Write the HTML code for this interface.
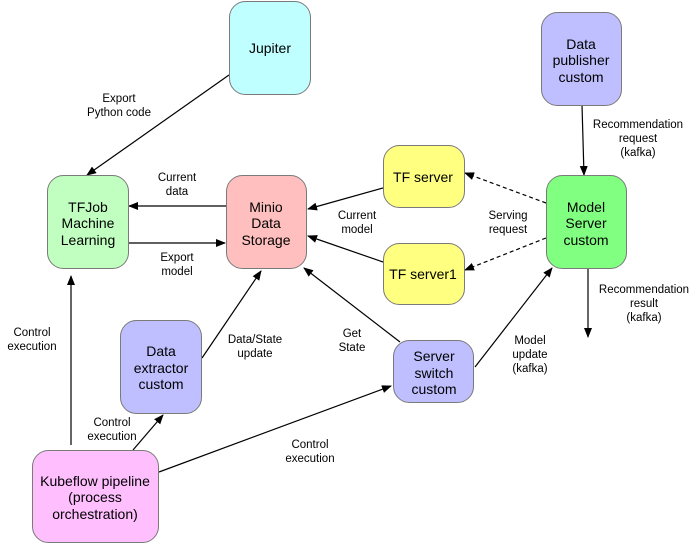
<!DOCTYPE html>
<html><head><style>
body{margin:0;background:#fff;width:699px;height:544px;overflow:hidden}
svg{font-family:"Liberation Sans",sans-serif}
.n{stroke:#7a7a7a;stroke-width:1}
.t{font-size:14px;text-anchor:middle;fill:#000}
.l{font-size:11.5px;text-anchor:middle;fill:#000}
</style></head><body>
<svg width="699" height="544" viewBox="0 0 699 544" xmlns="http://www.w3.org/2000/svg">
<defs><marker id="a" markerWidth="10" markerHeight="8" refX="9" refY="4" orient="auto" markerUnits="userSpaceOnUse"><path d="M0,0 L10,4 L0,8 Z" fill="#000"/></marker></defs>
<g stroke="#000" stroke-width="1.2" fill="none" marker-end="url(#a)">
<line x1="229" y1="75" x2="87" y2="175"/>
<line x1="226" y1="206" x2="129" y2="206"/>
<line x1="128" y1="243" x2="225" y2="243"/>
<line x1="383" y1="188" x2="308" y2="209"/>
<line x1="383" y1="262" x2="308" y2="236"/>
<line x1="546" y1="203" x2="465" y2="173" stroke-dasharray="4,3"/>
<line x1="546" y1="238" x2="465" y2="270" stroke-dasharray="4,3"/>
<line x1="582" y1="105" x2="584" y2="175"/>
<line x1="588" y1="268" x2="588" y2="337"/>
<line x1="71" y1="445" x2="71" y2="276"/>
<line x1="133" y1="450" x2="163" y2="415"/>
<line x1="202" y1="358" x2="261" y2="271"/>
<line x1="159" y1="472" x2="391" y2="386"/>
<line x1="400" y1="342" x2="304" y2="268"/>
<line x1="475" y1="367" x2="552" y2="268"/>
</g>
<rect class="n" x="229.5" y="1.5" width="81" height="93" rx="16" fill="#bfffff"/>
<text class="t" x="270" y="53">Jupiter</text>
<rect class="n" x="47.5" y="175.5" width="81" height="93" rx="16" fill="#c0ffc0"/>
<text class="t" x="88" y="212">TFJob</text><text class="t" x="88" y="228">Machine</text><text class="t" x="88" y="245">Learning</text>
<rect class="n" x="226.5" y="175.5" width="80" height="93" rx="16" fill="#ffbfbf"/>
<text class="t" x="266" y="212">Minio</text><text class="t" x="266" y="228">Data</text><text class="t" x="266" y="245">Storage</text>
<rect class="n" x="541.5" y="12.5" width="80" height="93" rx="16" fill="#bfbfff"/>
<text class="t" x="581" y="49">Data</text><text class="t" x="581" y="65">publisher</text><text class="t" x="581" y="82">custom</text>
<rect class="n" x="383.5" y="145.5" width="81" height="62" rx="16" fill="#ffff80"/>
<text class="t" x="423" y="182">TF server</text>
<rect class="n" x="383.5" y="243.5" width="81" height="61" rx="16" fill="#ffff80"/>
<text class="t" x="423" y="279">TF server1</text>
<rect class="n" x="546.5" y="175.5" width="80" height="93" rx="16" fill="#80ff80"/>
<text class="t" x="586" y="212">Model</text><text class="t" x="586" y="228">Server</text><text class="t" x="586" y="245">custom</text>
<rect class="n" x="120.5" y="320.5" width="81" height="93" rx="16" fill="#bfbfff"/>
<text class="t" x="161" y="356">Data</text><text class="t" x="161" y="373">extractor</text><text class="t" x="161" y="389">custom</text>
<rect class="n" x="393.5" y="340.5" width="80" height="62" rx="16" fill="#bfbfff"/>
<text class="t" x="434" y="361">Server</text><text class="t" x="434" y="378">switch</text><text class="t" x="434" y="394">custom</text>
<rect class="n" x="32.5" y="450.5" width="126" height="92" rx="16" fill="#ffbfff"/>
<text class="t" x="95" y="486">Kubeflow pipeline</text><text class="t" x="95" y="502">(process</text><text class="t" x="95" y="519">orchestration)</text>
<text class="l" x="119" y="102">Export</text><text class="l" x="119" y="116">Python code</text>
<text class="l" x="177" y="181">Current</text><text class="l" x="177" y="195">data</text>
<text class="l" x="177" y="261">Export</text><text class="l" x="177" y="275">model</text>
<text class="l" x="357" y="219">Current</text><text class="l" x="357" y="233">model</text>
<text class="l" x="508" y="219">Serving</text><text class="l" x="508" y="233">request</text>
<text class="l" x="638" y="128">Recommendation</text><text class="l" x="638" y="142">request</text><text class="l" x="638" y="156">(kafka)</text>
<text class="l" x="644" y="293">Recommendation</text><text class="l" x="644" y="307">result</text><text class="l" x="644" y="321">(kafka)</text>
<text class="l" x="32" y="336">Control</text><text class="l" x="32" y="350">execution</text>
<text class="l" x="255" y="343">Data/State</text><text class="l" x="255" y="357">update</text>
<text class="l" x="352" y="337">Get</text><text class="l" x="352" y="351">State</text>
<text class="l" x="530" y="344">Model</text><text class="l" x="530" y="358">update</text><text class="l" x="530" y="372">(kafka)</text>
<text class="l" x="112" y="426">Control</text><text class="l" x="112" y="440">execution</text>
<text class="l" x="310" y="448">Control</text><text class="l" x="310" y="462">execution</text>
</svg>
</body></html>
